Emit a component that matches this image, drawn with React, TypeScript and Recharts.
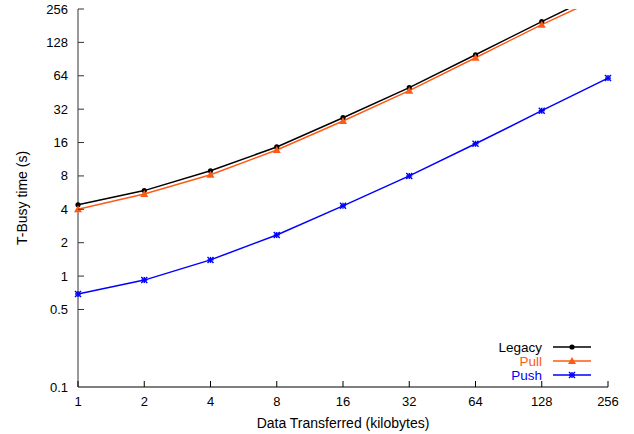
import { LineChart, Line, XAxis, YAxis, Legend, Label } from 'recharts'

const kilobytes = [1, 2, 4, 8, 16, 32, 64, 128, 256]
const legacy = [4.4, 5.9, 8.9, 14.6, 26.8, 50, 99, 197, 385]
const pull = [4.0, 5.5, 8.2, 13.7, 25, 47, 93, 185, 350]
const push = [0.69, 0.92, 1.4, 2.35, 4.3, 8, 15.6, 31, 61]
const yTicks = [0.1, 0.5, 1, 2, 4, 8, 16, 32, 64, 128, 256]

const data = kilobytes.map((kb, i) => ({ kb, legacy: legacy[i], pull: pull[i], push: push[i] }))

const FONT = "'Liberation Sans', Arial, sans-serif"
const ORANGE = '#ff5a14'
const BLUE = '#0000ff'

const CircleDot = (p: any) => <circle key={p.key} cx={p.cx} cy={p.cy} r={2.6} fill="#000" />
const TriDot = (p: any) => (
  <polygon key={p.key} points={`${p.cx},${p.cy - 4} ${p.cx - 4},${p.cy + 3} ${p.cx + 4},${p.cy + 3}`} fill={ORANGE} />
)
const StarDot = (p: any) => (
  <g key={p.key} stroke={BLUE} strokeWidth={1.4}>
    <line x1={p.cx - 3} y1={p.cy - 3} x2={p.cx + 3} y2={p.cy + 3} />
    <line x1={p.cx - 3} y1={p.cy + 3} x2={p.cx + 3} y2={p.cy - 3} />
    <line x1={p.cx - 3} y1={p.cy} x2={p.cx + 3} y2={p.cy} />
    <line x1={p.cx} y1={p.cy - 3} x2={p.cx} y2={p.cy + 3} />
  </g>
)

const XTick = ({ x, y, payload }: any) => (
  <g>
    <line x1={x} y1={y - 10} x2={x} y2={y - 16} stroke="#000" />
    <text x={x} y={y} dy="0.71em" textAnchor="middle" fontSize={13} fontFamily={FONT} fill="#000">
      {payload.value}
    </text>
  </g>
)

const YTick = ({ x, y, payload }: any) => (
  <g>
    {payload.value !== 0.1 && <line x1={x + 10} y1={y} x2={x + 16} y2={y} stroke="#333" />}
    <text x={x} y={y} dy="0.35em" textAnchor="end" fontSize={13} fontFamily={FONT} fill="#000">
      {payload.value}
    </text>
  </g>
)

const legendRows = [
  { name: 'Legacy', color: '#000', text: '#000', dot: 'circle' },
  { name: 'Pull', color: ORANGE, text: ORANGE, dot: 'tri' },
  { name: 'Push', color: BLUE, text: BLUE, dot: 'star' },
]

const LegendBox = () => (
  <svg width={140} height={46} style={{ display: 'block' }}>
    {legendRows.map((r, i) => {
      const cy = 7 + i * 14
      return (
        <g key={r.name}>
          <text x={72} y={cy} dy="0.35em" textAnchor="end" fontSize={13.5} fontFamily={FONT} fill={r.text}>
            {r.name}
          </text>
          <line x1={83} y1={cy} x2={121} y2={cy} stroke={r.color} strokeWidth={1.5} />
          {r.dot === 'circle' && <CircleDot cx={102} cy={cy} />}
          {r.dot === 'tri' && <TriDot cx={102} cy={cy} />}
          {r.dot === 'star' && <StarDot cx={102} cy={cy} />}
        </g>
      )
    })}
  </svg>
)

export default function App() {
  return (
    <div style={{ position: 'absolute', left: 0, top: 0, width: 634, height: 434, background: '#fff' }}>
      <LineChart width={634} height={434} data={data} margin={{ top: 9, right: 26, left: 0, bottom: 0 }}>
        <XAxis
          dataKey="kb"
          type="number"
          scale="log"
          domain={[1, 256]}
          ticks={kilobytes}
          interval={0}
          height={47}
          tickSize={0}
          tickMargin={10}
          tick={<XTick />}
          axisLine={{ stroke: '#000', strokeWidth: 1.2 }}
        >
          <Label
            content={() => (
              <text x={343} y={423} dy="0.35em" textAnchor="middle" fontSize={14} fontFamily={FONT} fill="#000">
                Data Transferred (kilobytes)
              </text>
            )}
          />
        </XAxis>
        <YAxis
          type="number"
          scale="log"
          domain={[0.1, 256]}
          allowDataOverflow
          ticks={yTicks}
          interval={0}
          width={78}
          tickSize={0}
          tickMargin={10}
          tick={<YTick />}
          axisLine={{ stroke: '#555', strokeWidth: 1.2 }}
        >
          <Label
            content={() => (
              <text
                x={22}
                y={198}
                dy="0.35em"
                textAnchor="middle"
                transform="rotate(-90 22 198)"
                fontSize={14}
                fontFamily={FONT}
                fill="#000"
              >
                T-Busy time (s)
              </text>
            )}
          />
        </YAxis>
        <Line dataKey="legacy" stroke="#000" strokeWidth={1.5} dot={<CircleDot />} isAnimationActive={false} />
        <Line dataKey="pull" stroke={ORANGE} strokeWidth={1.5} dot={<TriDot />} isAnimationActive={false} />
        <Line dataKey="push" stroke={BLUE} strokeWidth={1.5} dot={<StarDot />} isAnimationActive={false} />
        <Legend
          layout="horizontal"
          verticalAlign="middle"
          align="center"
          content={() => <LegendBox />}
          wrapperStyle={{ position: 'absolute', left: 470, top: 340, width: 140 }}
        />
      </LineChart>
    </div>
  )
}
